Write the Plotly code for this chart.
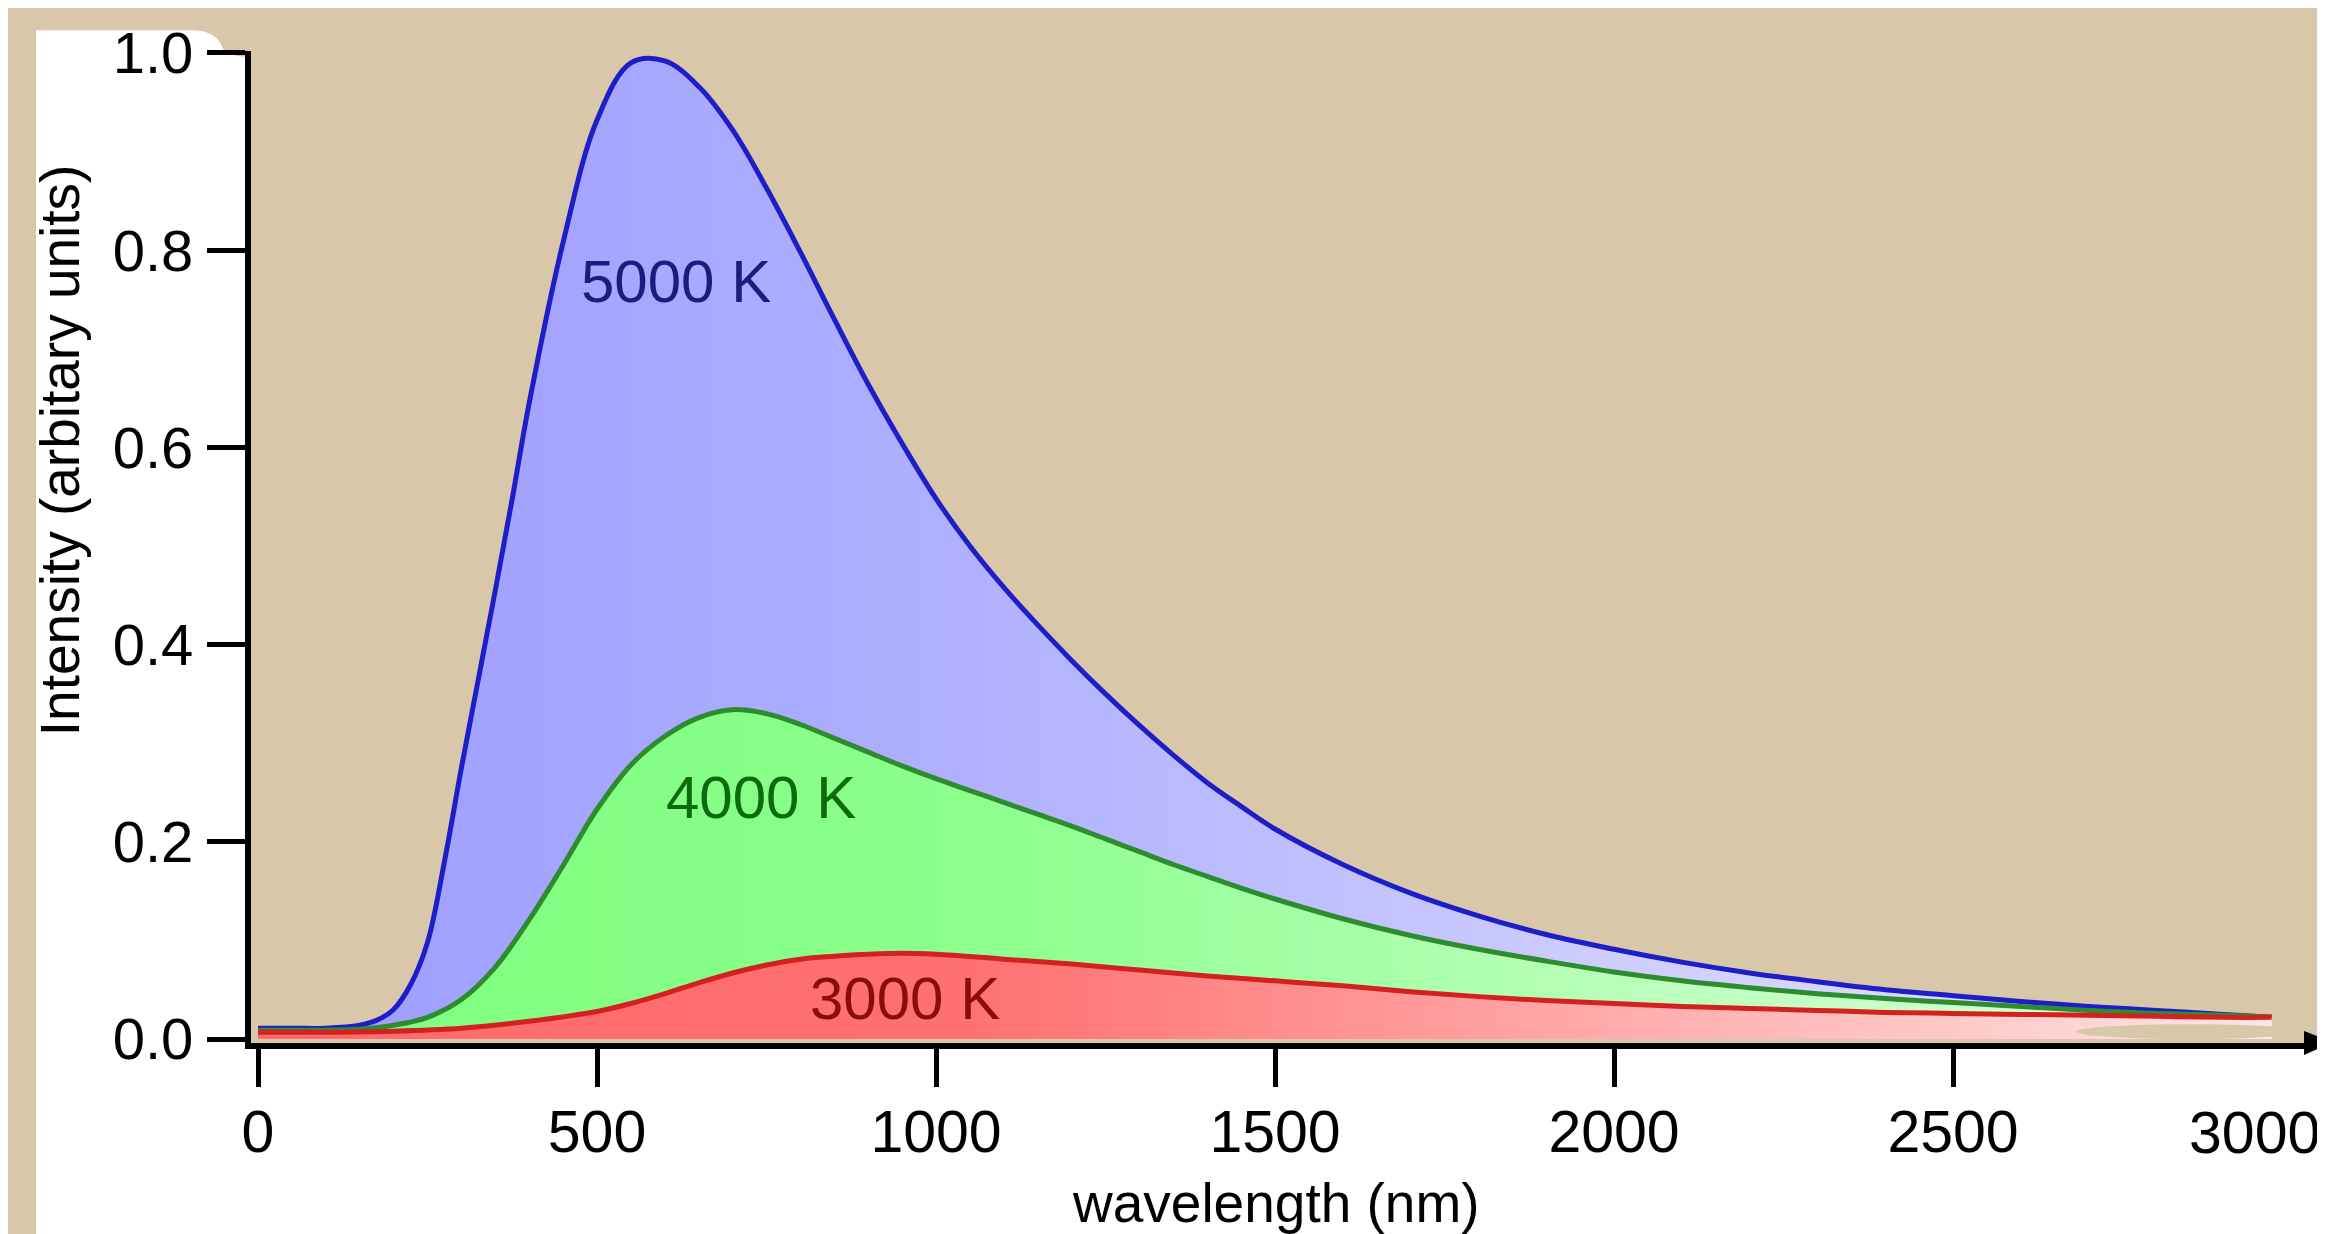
import plotly.graph_objects as go

# ---------------- data ----------------
wl_5000 = [0, 50, 100, 150, 175, 200, 225, 250, 275, 300, 325, 350, 375, 400, 450, 500,
           550, 600, 650, 700, 750, 800, 850, 900, 950, 1000, 1050, 1100, 1150, 1200,
           1250, 1300, 1350, 1400, 1450, 1500, 1600, 1700, 1800, 1900, 2000, 2100, 2200,
           2300, 2400, 2500, 2600, 2700, 2800, 2900, 2970]
int_5000 = [0.011, 0.011, 0.011, 0.014, 0.019, 0.030, 0.055, 0.098, 0.180, 0.275, 0.365,
            0.455, 0.548, 0.645, 0.808, 0.932, 0.990, 0.992, 0.966, 0.922, 0.863, 0.798,
            0.730, 0.664, 0.604, 0.548, 0.500, 0.458, 0.420, 0.384, 0.350, 0.318, 0.288,
            0.260, 0.236, 0.213, 0.177, 0.148, 0.125, 0.106, 0.091, 0.078, 0.067, 0.058,
            0.050, 0.044, 0.038, 0.033, 0.029, 0.025, 0.022]

wl_4000 = [0, 50, 100, 150, 200, 250, 300, 350, 400, 450, 500, 550, 600, 650, 700, 750,
           800, 850, 900, 950, 1000, 1050, 1100, 1150, 1200, 1250, 1300, 1350, 1400, 1450,
           1500, 1600, 1700, 1800, 1900, 2000, 2100, 2200, 2300, 2400, 2500, 2600, 2700,
           2800, 2900, 2970]
int_4000 = [0.009, 0.009, 0.009, 0.010, 0.014, 0.022, 0.040, 0.073, 0.121, 0.176, 0.233,
            0.278, 0.307, 0.326, 0.334, 0.330, 0.319, 0.305, 0.291, 0.277, 0.264, 0.252,
            0.240, 0.228, 0.216, 0.203, 0.190, 0.177, 0.165, 0.153, 0.142, 0.122, 0.105,
            0.091, 0.079, 0.068, 0.059, 0.052, 0.046, 0.041, 0.037, 0.033, 0.029, 0.026,
            0.024, 0.022]

wl_3000 = [0, 100, 200, 300, 400, 500, 550, 600, 650, 700, 750, 800, 850, 900, 950, 1000,
           1100, 1200, 1300, 1400, 1500, 1600, 1700, 1800, 1900, 2000, 2100, 2200, 2300,
           2400, 2500, 2600, 2700, 2800, 2900, 2970]
int_3000 = [0.007, 0.007, 0.008, 0.011, 0.018, 0.028, 0.036, 0.046, 0.057, 0.067, 0.075,
            0.081, 0.084, 0.086, 0.087, 0.086, 0.081, 0.076, 0.070, 0.064, 0.059, 0.054,
            0.048, 0.043, 0.039, 0.036, 0.033, 0.031, 0.029, 0.027, 0.026, 0.025, 0.024,
            0.023, 0.022, 0.022]

curve_labels = ["5000 K", "4000 K", "3000 K"]
label_x = [617, 742, 954]
label_y = [0.768, 0.245, 0.041]

x_ticks = [0, 500, 1000, 1500, 2000, 2500]
last_x_label = "3000"
y_ticks = [0.0, 0.2, 0.4, 0.6, 0.8, 1.0]

# ---------------- layout geometry ----------------
W, H = 2325, 1234
L, R, T, B = 243, 13, 36, 199
PW, PH = W - L - R, H - T - B
Y_ZERO = 1031          # pixel row of intensity 0
PX_PER_UNIT = 993      # pixels per unit of intensity
X_ZERO = 250           # pixel column of 0 nm
PX_PER_NM = 0.678


def px(X):
    return (X - L) / PW


def py(Y):
    return (H - B - Y) / PH


TAN = "#d9c7a9"
FONT = "Liberation Sans, Arial, Helvetica, sans-serif"

fig = go.Figure()

series = [
    (wl_5000, int_5000, "#1e1ec8", [[0, "#9c9cff"], [0.35, "#b0b0ff"], [0.7, "#d0d0ff"], [1, "#e6e6ff"]], 5),
    (wl_4000, int_4000, "#2e8c2e", [[0, "#7cff7c"], [0.35, "#8cff8c"], [0.7, "#bcffbc"], [1, "#dcffdc"]], 5),
    (wl_3000, int_3000, "#d42020", [[0, "#ff6a6a"], [0.35, "#ff7070"], [0.7, "#ffb0b0"], [1, "#ffe4e4"]], 5),
]
for xs, ys, lc, cs, lw in series:
    fig.add_trace(go.Scatter(
        x=xs, y=ys, mode="lines",
        line=dict(color=lc, width=lw, shape="spline", smoothing=1.0),
        fill="tozeroy",
        fillgradient=dict(type="horizontal", colorscale=cs),
        hoverinfo="skip", showlegend=False,
    ))

label_colors = ["#1b1b80", "#0b6a0b", "#8a0c0c"]
for t, lx, ly, c in zip(curve_labels, label_x, label_y, label_colors):
    fig.add_annotation(x=lx, y=ly, xref="x", yref="y", text=t, showarrow=False,
                       font=dict(family=FONT, size=60, color=c),
                       xanchor="center", yanchor="middle")

# white L-shaped panel behind the axes (decorative)
path = (f"M {px(28)},{py(15)} L {px(185)},{py(15)} "
        f"Q {px(210)},{py(16)} {px(215)},{py(34)} "
        f"Q {px(222)},{py(42)} {px(L)},{py(42)} "
        f"L {px(L)},{py(H - B)} L {px(2325)},{py(H - B)} "
        f"L {px(2325)},{py(1234)} L {px(28)},{py(1234)} Z")
shapes = [
    dict(type="path", xref="paper", yref="paper", path=path,
         fillcolor="white", line=dict(width=0), layer="below"),
    # tan blotch near the end of the tails
    dict(type="circle", xref="paper", yref="paper",
         x0=px(2068), x1=px(2296), y0=py(Y_ZERO), y1=py(Y_ZERO - 15),
         fillcolor=TAN, line=dict(width=0), layer="above"),
    # arrow head on x axis
    dict(type="path", xref="paper", yref="paper",
         path=f"M {px(2296)},{py(Y_ZERO - 8)} L {px(2325)},{py(Y_ZERO + 3)} L {px(2296)},{py(Y_ZERO + 16)} Z",
         fillcolor="black", line=dict(width=0), layer="above"),
]

# last x tick label, shifted left to fit in the frame (no tick mark there)
fig.add_annotation(x=px(2314), y=py(1126), xref="paper", yref="paper",
                   text=last_x_label, showarrow=False,
                   font=dict(family=FONT, size=59, color="black"),
                   xanchor="right", yanchor="middle")
fig.add_annotation(x=px(1268), y=py(1196), xref="paper", yref="paper",
                   text="wavelength (nm)", showarrow=False,
                   font=dict(family=FONT, size=55, color="black"),
                   xanchor="center", yanchor="middle")
fig.add_annotation(x=px(52), y=py(438), xref="paper", yref="paper",
                   text="Intensity (arbitary units)", showarrow=False, textangle=-90,
                   font=dict(family=FONT, size=55, color="black"),
                   xanchor="center", yanchor="middle")

x0 = (L - X_ZERO) / PX_PER_NM
y0 = -(H - B - Y_ZERO) / PX_PER_UNIT
fig.update_layout(
    width=W, height=H,
    margin=dict(l=L, r=R, t=T, b=B, pad=0),
    paper_bgcolor=TAN, plot_bgcolor=TAN,
    shapes=shapes,
    showlegend=False, hovermode=False,
    xaxis=dict(range=[x0, x0 + PW / PX_PER_NM], tickvals=x_ticks,
               ticktext=[str(v) for v in x_ticks],
               showgrid=False, zeroline=False, showline=True, linecolor="black",
               linewidth=6, ticks="outside", ticklen=38, tickwidth=5, tickcolor="black",
               tickfont=dict(family=FONT, size=59, color="black"),
               ticklabelstandoff=-6),
    yaxis=dict(range=[y0, y0 + PH / PX_PER_UNIT], tickvals=y_ticks,
               ticktext=[f"{v:.1f}" for v in y_ticks],
               showgrid=False, zeroline=False, showline=True, linecolor="black",
               linewidth=6, ticks="outside", ticklen=38, tickwidth=5, tickcolor="black",
               tickfont=dict(family=FONT, size=58, color="black"),
               ticklabelstandoff=2),
)

fig.write_html("out.html")
